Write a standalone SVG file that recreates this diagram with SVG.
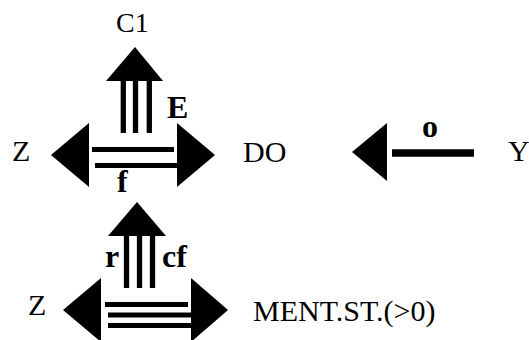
<svg xmlns="http://www.w3.org/2000/svg" width="529" height="340" viewBox="0 0 529 340">
<defs>
<style>
.h{fill:#000}
.s{stroke:#000;fill:none}
</style>
</defs>
<rect width="529" height="340" fill="#fff"/>
<g font-family="Liberation Serif, Times New Roman, Times, serif" font-size="30" fill="#000">
<g id="node-C1"><text x="116" y="32" font-size="28">C1</text></g>
<g id="node-Z1"><text x="12" y="161">Z</text></g>
<g id="node-DO"><text x="243" y="162">DO</text></g>
<g id="node-Y"><text x="508" y="161">Y</text></g>
<g id="node-Z2"><text x="28" y="315">Z</text></g>
<g id="node-MENT"><text x="253" y="321">MENT.ST.(&gt;0)</text></g>
</g>
<g id="connectors">
  <polygon class="h" points="135,47 163,81 106,81"/>
  <g class="s" stroke-width="5.3">
    <line x1="123.3" y1="80" x2="123.3" y2="133"/>
    <line x1="135.5" y1="80" x2="135.5" y2="133"/>
    <line x1="149.3" y1="80" x2="149.3" y2="133"/>
  </g>
  <polygon class="h" points="51,155 89,123 89,187"/>
  <polygon class="h" points="215,155 177,123 177,187"/>
  <g class="s" stroke-width="5">
    <line x1="92" y1="149.5" x2="174" y2="149.5"/>
    <line x1="95" y1="165.5" x2="177" y2="165.5"/>
  </g>
  <polygon class="h" points="352,152 387,123 387,181"/>
  <line class="s" stroke-width="7.5" x1="392" y1="153" x2="474" y2="153"/>
  <polygon class="h" points="137,202 166,236 108,236"/>
  <g class="s" stroke-width="5.3">
    <line x1="126.5" y1="235" x2="126.5" y2="288"/>
    <line x1="139.5" y1="235" x2="139.5" y2="288"/>
    <line x1="152.5" y1="235" x2="152.5" y2="288"/>
  </g>
  <polygon class="h" points="63,310 101,278 101,342"/>
  <polygon class="h" points="228,310 191,278 191,342"/>
  <g class="s" stroke-width="5">
    <line x1="105" y1="304.5" x2="188" y2="304.5"/>
    <line x1="108" y1="315" x2="191" y2="315"/>
    <line x1="108" y1="325.5" x2="191" y2="325.5"/>
  </g>
  <g font-family="Liberation Serif, Times New Roman, Times, serif" font-size="32" font-weight="bold" fill="#000">
    <text x="167" y="118">E</text>
    <text x="117" y="192">f</text>
    <text x="422" y="137">o</text>
    <text x="105" y="267">r</text>
    <text x="162" y="267">cf</text>
  </g>
</g>
</svg>
